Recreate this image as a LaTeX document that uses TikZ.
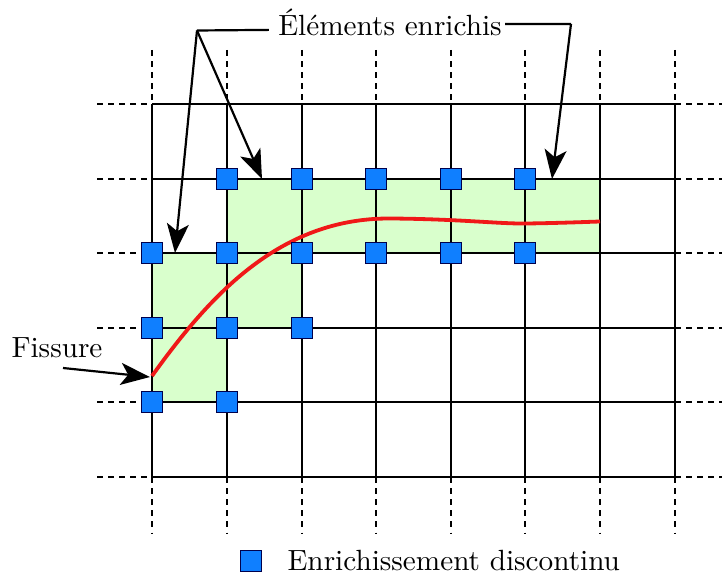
\documentclass[tikz,border=0pt]{standalone}
\usetikzlibrary{arrows.meta}
\definecolor{enrblue}{HTML}{0F7FFF}
\definecolor{enrgreen}{HTML}{D9FFCC}
\definecolor{crackred}{HTML}{F01818}
\tikzset{
  gridline/.style={line width=0.6pt},
  dashline/.style={line width=0.6pt, dash pattern=on 2pt off 1.8pt},
  enrnode/.style={draw=black!70!blue, fill=enrblue, line width=0.35pt, minimum size=7.2pt, inner sep=0pt, rectangle},
  callout/.style={line width=0.75pt, -{Stealth[length=10pt,width=7.5pt,inset=2.5pt]}},
  lbl/.style={inner sep=0pt, font=\normalsize},
}
\begin{document}
\begin{tikzpicture}[x=0.342pt,y=-0.342pt]
\useasboundingbox (0,0) rectangle (722,573);
% green enriched cells
\fill[enrgreen] (227,179) rectangle (600,253);
\fill[enrgreen] (152,253) rectangle (302,328);
\fill[enrgreen] (152,328) rectangle (227,402);
% grid
\foreach \x in {152,227,302,376,451,525,600,675}{
  \draw[gridline] (\x,104) -- (\x,477);
  \draw[dashline] (\x,50) -- (\x,104);
  \draw[dashline] (\x,477) -- (\x,533);
}
\foreach \y in {104,179,253,328,402,477}{
  \draw[gridline] (152,\y) -- (675,\y);
  \draw[dashline] (97,\y) -- (152,\y);
  \draw[dashline] (675,\y) -- (722,\y);
}
% crack
\draw[crackred, line width=1.3pt] (152,376) .. controls (210,295) and (280,218) .. (390,218.5)
  .. controls (460,219) and (500,224) .. (527,223.5)
  .. controls (560,223) and (585,222) .. (600,221.5);
% enriched nodes
\foreach \x/\y [count=\i] in {227/179,302/179,376/179,451/179,525/179,
  152/253,227/253,302/253,376/253,451/253,525/253,
  152/328,227/328,302/328,152/402,227/402}{
  \node[enrnode] (n\i) at (\x,\y) {};
}
% labels
\node[lbl] (elem) at (390,22) {Éléments enrichis};
\coordinate (cornerL) at (197,30.5);
\coordinate (cornerR) at (571,24);
\coordinate (tipA) at (175,253);
\coordinate (tipB) at (262,179);
\coordinate (tipC) at (552,179);
\draw[line width=0.75pt] ([xshift=-3pt,yshift=-2.7pt]elem.west) -- (cornerL);
\draw[callout] (cornerL) -- (tipA);
\draw[callout] (cornerL) -- (tipB);
\draw[line width=0.75pt] ([xshift=1pt,yshift=-0.7pt]elem.east) -- (cornerR);
\draw[callout] (cornerR) -- (tipC);
\node[lbl] (fiss) at (57,348) {Fissure};
\coordinate (fissTip) at (150,377);
\draw[callout] (63,368) -- (fissTip);
% legend
\node[enrnode] (legsq) at (251,561) {};
\node[lbl, anchor=west] (legtxt) at (287,561) {Enrichissement discontinu};
\end{tikzpicture}
\end{document}
